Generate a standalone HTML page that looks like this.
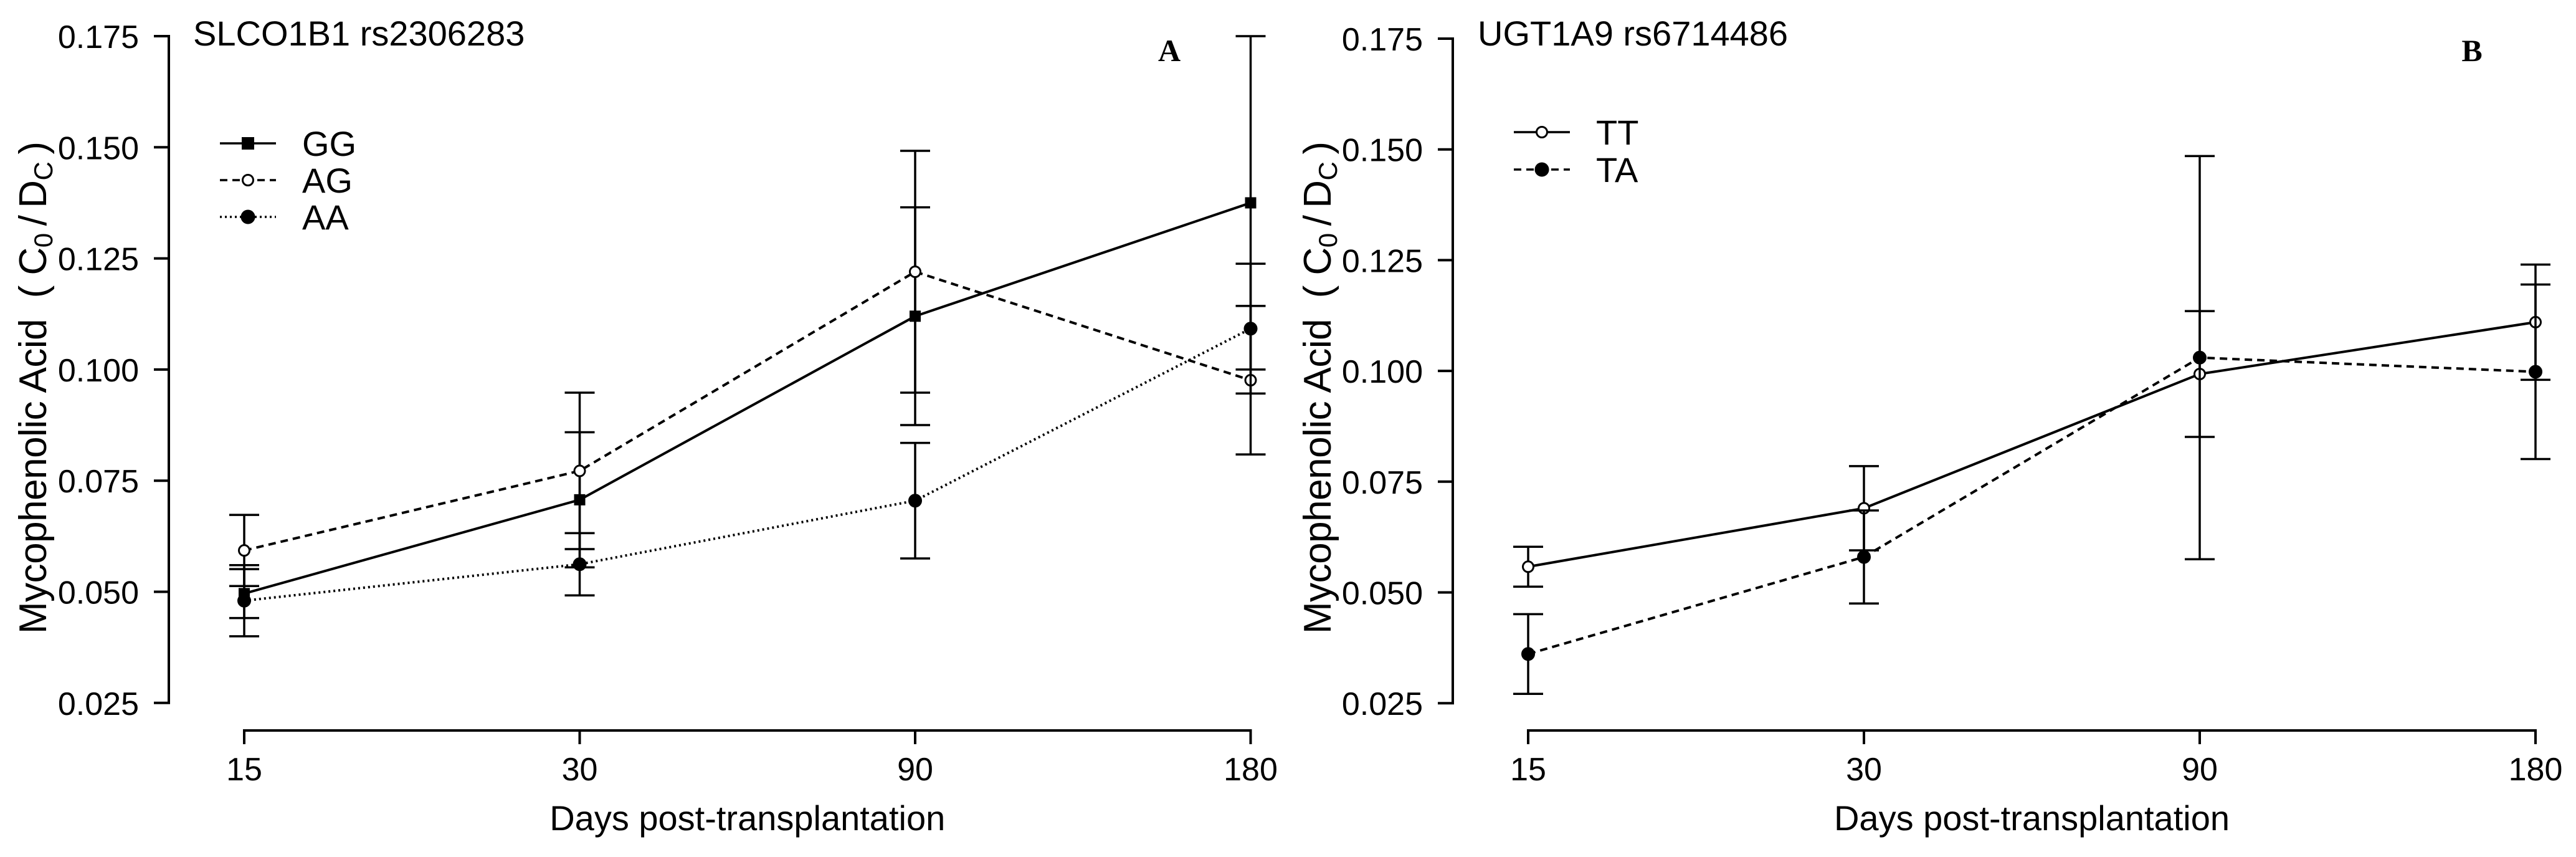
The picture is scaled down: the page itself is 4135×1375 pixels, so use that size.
<!DOCTYPE html>
<html><head><meta charset="utf-8"><style>
html,body{margin:0;padding:0;background:#fff;}
svg{display:block;font-family:"Liberation Sans",Arial,sans-serif;}
</style></head><body>
<svg id="chart" width="4135" height="1375" viewBox="0 0 4135 1375" xmlns="http://www.w3.org/2000/svg">
<rect width="4135" height="1375" fill="#fff"/>
<g id="panelA"></g>
<g id="panelB"></g>
</svg>
<script>
const categories = ["15","30","90","180"];
const yTicks = [0.025,0.050,0.075,0.100,0.125,0.150,0.175];
const yTickLabels = ["0.025","0.050","0.075","0.100","0.125","0.150","0.175"];
// Panel A
const aSeriesNames = ["GG","AG","AA"];
const aGG = [0.0496,0.0707,0.112,0.1375];
const aGGerr = [0.0055,0.0152,0.0245,0.0375];
const aAG = [0.0593,0.0772,0.122,0.0976];
const aAGerr = [0.008,0.0176,0.0272,0.0167];
const aAA = [0.048,0.0562,0.0705,0.1092];
const aAAerr = [0.008,0.007,0.013,0.0146];
// Panel B
const bSeriesNames = ["TT","TA"];
const bTT = [0.0558,0.069,0.0993,0.111];
const bTTerr = [0.0045,0.0095,0.0142,0.013];
const bTA = [0.0361,0.058,0.103,0.0998];
const bTAerr = [0.009,0.0105,0.0455,0.0197];

const NS = "http://www.w3.org/2000/svg";
function mk(parent, tag, attrs){const e=document.createElementNS(NS,tag);for(const k in attrs)e.setAttribute(k,attrs[k]);parent.appendChild(e);return e;}

function drawPanel(g, cfg){
  const yScale = v => cfg.yTop + (0.175 - v)/0.025*cfg.yStep;
  const xScale = i => cfg.x0 + i*cfg.dx;
  const ya = mk(g,'line',{x1:cfg.axX,y1:yScale(0.175),x2:cfg.axX,y2:yScale(0.025),stroke:'#000','stroke-width':4});
  
  
  yTicks.forEach((t,k)=>{
    const tk = mk(g,'line',{x1:cfg.axX-24,y1:yScale(t),x2:cfg.axX+2,y2:yScale(t),stroke:'#000','stroke-width':4});
    
    
    const tl = mk(g,'text',{x:cfg.axX-48,y:yScale(t)+19,'font-size':52,'text-anchor':'end',fill:'#000'});
    tl.textContent = yTickLabels[k];
    
    
  });
  const xa = mk(g,'line',{x1:xScale(0),y1:1172,x2:xScale(3),y2:1172,stroke:'#000','stroke-width':4});
  
  
  categories.forEach((c,i)=>{
    const tk = mk(g,'line',{x1:xScale(i),y1:1170,x2:xScale(i),y2:1194,stroke:'#000','stroke-width':4});
    
    
    const tl = mk(g,'text',{x:xScale(i),y:1252,'font-size':52,'text-anchor':'middle',fill:'#000'});
    tl.textContent = c;
    
    
  });
  const xt = mk(g,'text',{x:(xScale(0)+xScale(3))/2,y:1332,'font-size':56,'text-anchor':'middle',fill:'#000'});
  xt.textContent = 'Days post-transplantation';
  
  
  const yt = mk(g,'text',{x:0,y:0,'font-size':62,'text-anchor':'middle',fill:'#000',textLength:790,lengthAdjust:'spacing',transform:`translate(${cfg.yTitleX},622) rotate(-90)`});
  yt.innerHTML = 'Mycophenolic Acid\u00a0\u00a0(\u00a0C<tspan font-size="42" dy="10">0</tspan><tspan dy="-10">\u2009/\u2009D</tspan><tspan font-size="42" dy="10">C</tspan><tspan dy="-10">\u2009)</tspan>';
  
  
  const ti = mk(g,'text',{x:cfg.titleX,y:73,'font-size':56,fill:'#000'});
  ti.textContent = cfg.title;
  
  
  const pl = mk(g,'text',{x:cfg.letterX,y:98,'font-size':50,'font-weight':'bold','font-family':'Liberation Serif, serif','text-anchor':'middle',fill:'#000'});
  pl.textContent = cfg.letter;
  
  

  cfg.series.forEach((s,si)=>{
    const sg = mk(g,'g',{});
    
    
    const pts = s.vals.map((v,i)=>xScale(i)+','+yScale(v)).join(' ');
    const ln = mk(sg,'polyline',{points:pts,fill:'none',stroke:'#000','stroke-width':4,'stroke-dasharray':s.dash});
    
    
    s.vals.forEach((v,i)=>{
      const x=xScale(i), lo=yScale(v-s.err[i]), hi=yScale(v+s.err[i]);
      const eb = mk(sg,'path',{d:`M${x},${hi}V${lo}M${x-24},${hi}H${x+24}M${x-24},${lo}H${x+24}`,stroke:'#000','stroke-width':3.5,fill:'none'});
      
      
    });
    s.vals.forEach((v,i)=>{
      const x=xScale(i), y=yScale(v);
      let m;
      if(s.marker==='square') m = mk(sg,'rect',{x:x-9,y:y-9,width:18,height:18,fill:'#000'});
      else m = mk(sg,'circle',{cx:x,cy:y,r:s.marker==='open'?8.5:9.5,fill:s.marker==='open'?'#fff':'#000',stroke:'#000','stroke-width':3});
      
      
    });
    const ly = cfg.legY + si*cfg.legDy;
    const lg = mk(g,'g',{});
    
    
    mk(lg,'line',{x1:cfg.legX,y1:ly,x2:cfg.legX+90,y2:ly,stroke:'#000','stroke-width':3.5,'stroke-dasharray':s.dash});
    const lx=cfg.legX+45;
    if(s.marker==='square') mk(lg,'rect',{x:lx-10,y:ly-10,width:20,height:20,fill:'#000'});
    else mk(lg,'circle',{cx:lx,cy:ly,r:s.marker==='open'?8.5:10,fill:s.marker==='open'?'#fff':'#000',stroke:'#000','stroke-width':3});
    const lt = mk(lg,'text',{x:cfg.legX+132,y:ly+20,'font-size':56,fill:'#000'});
    lt.textContent = s.name;
  });
}

drawPanel(document.getElementById('panelA'),{
  yTop:58,yStep:178.3,axX:271,x0:392,dx:538.5,yTitleX:74,titleX:310,title:'SLCO1B1 rs2306283',
  letter:'A',letterX:1877,legX:353,legY:230,legDy:59,
  series:[
    {name:aSeriesNames[0],vals:aGG,err:aGGerr,dash:'none',marker:'square'},
    {name:aSeriesNames[1],vals:aAG,err:aAGerr,dash:'12 8',marker:'open'},
    {name:aSeriesNames[2],vals:aAA,err:aAAerr,dash:'3 5',marker:'filled'}
  ]});
drawPanel(document.getElementById('panelB'),{
  yTop:62,yStep:177.7,axX:2332,x0:2453,dx:539,yTitleX:2136,titleX:2372,title:'UGT1A9 rs6714486',
  letter:'B',letterX:3968,legX:2430,legY:212,legDy:60,
  series:[
    {name:bSeriesNames[0],vals:bTT,err:bTTerr,dash:'none',marker:'open'},
    {name:bSeriesNames[1],vals:bTA,err:bTAerr,dash:'12 8',marker:'filled'}
  ]});
</script>
</body></html>
